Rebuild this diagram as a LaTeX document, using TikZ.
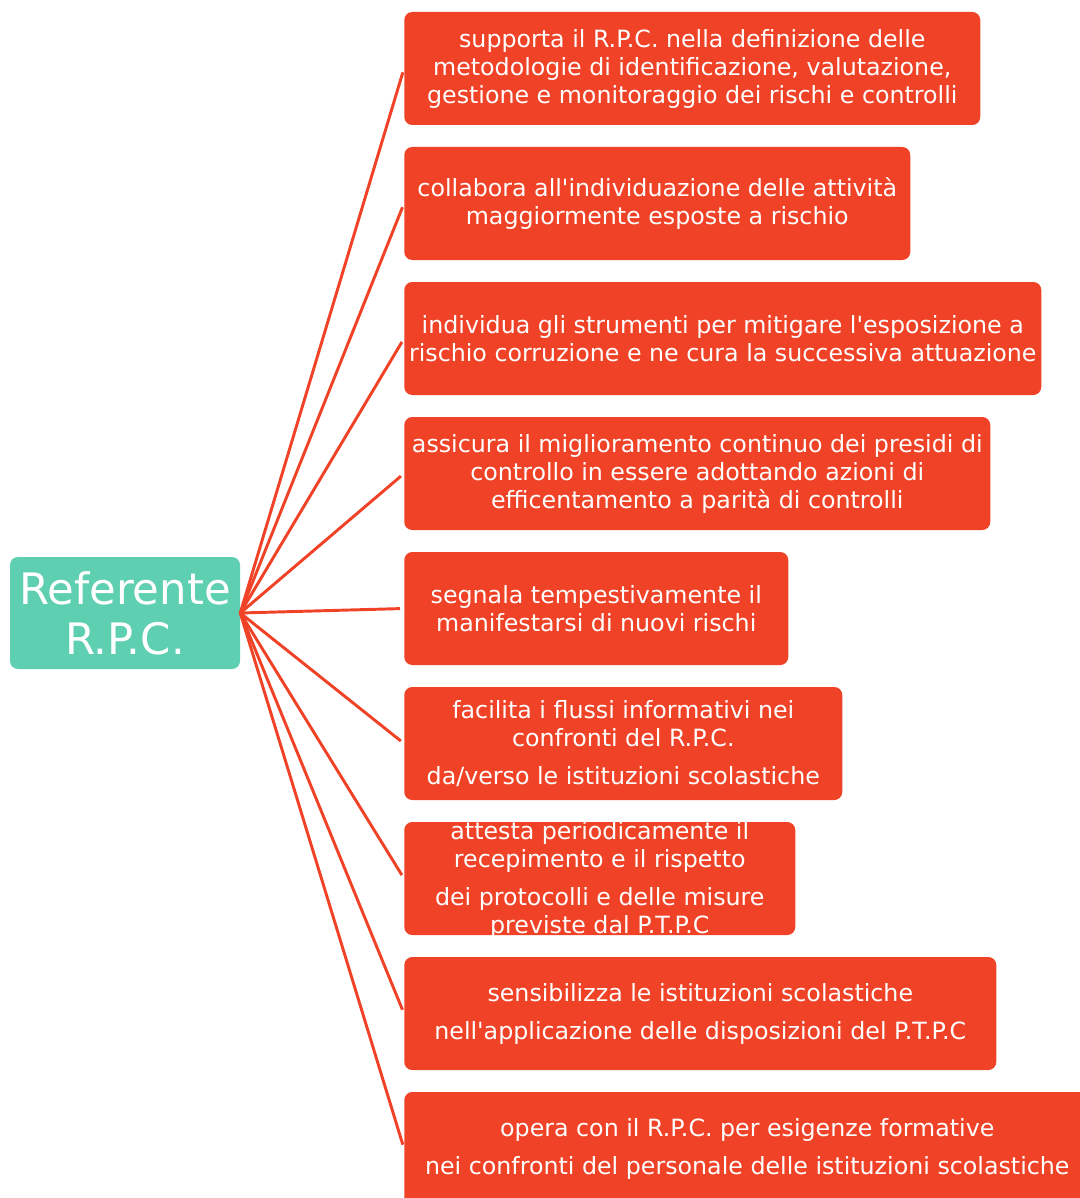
\documentclass[tikz,border=0pt]{standalone}
\usepackage{fontspec}
\setmainfont{DejaVu Sans}
\usepackage{xcolor}
\usetikzlibrary{shapes.geometric}
\definecolor{rpcred}{HTML}{F04226}
\definecolor{rpcteal}{HTML}{5ECFB0}
\tikzstyle{root} = [rectangle, rounded corners=6pt, minimum width=172.5pt, minimum height=84pt, inner sep=0pt, fill=rpcteal, text=white, align=center, font=\fontsize{32.5}{37.5}\selectfont]
\tikzstyle{task} = [rectangle, rounded corners=6pt, minimum height=84.75pt, inner sep=1pt, anchor=west, fill=rpcred, text=white, align=center, font=\fontsize{17.8}{21}\selectfont]
\tikzstyle{link} = [draw=rpcred, line width=2.2pt, shorten >=3pt]

\begin{document}
\begin{tikzpicture}[x=0.75pt, y=-0.75pt]
        \useasboundingbox (0,0) rectangle (1080,1198);

        \node (referente) [root] at (125,613) {Referente\\R.P.C.};

        \node (supporta) [task, minimum width=432pt] at (404,68.5)
        {supporta il R.P.C. nella definizione delle\\ metodologie di identificazione, valutazione,\\ gestione e monitoraggio dei rischi e controlli};
        \node (collabora) [task, minimum width=379.5pt] at (404,203.5)
        {collabora all\textquotesingle individuazione delle attività\\ maggiormente esposte a rischio};
        \node (individua) [task, minimum width=477.75pt] at (404,338.5)
        {individua gli strumenti per mitigare l\textquotesingle esposizione a\\ rischio corruzione e ne cura la successiva attuazione};
        \node (assicura) [task, minimum width=439.5pt] at (404,473.5)
        {assicura il miglioramento continuo dei presidi di\\ controllo in essere adottando azioni di\\ efficentamento a parità di controlli};
        \node (segnala) [task, minimum width=288pt] at (404,608.5)
        {segnala tempestivamente il\\ manifestarsi di nuovi rischi};
        \node (facilita) [task, minimum width=328.5pt] at (404,743.5)
        {facilita i flussi informativi nei\\ confronti del R.P.C.\\[7.5pt] da/verso le istituzioni scolastiche};
        \node (attesta) [task, minimum width=293.25pt] at (404,878.5)
        {\parbox[c][0pt][c]{290pt}{\centering\vspace*{6pt}attesta periodicamente il\\ recepimento e il rispetto\\[7.5pt] dei protocolli e delle misure\\ previste dal P.T.P.C}};
        \node (sensibilizza) [task, minimum width=444pt] at (404,1013.5)
        {sensibilizza le istituzioni scolastiche\\[7.5pt] nell\textquotesingle applicazione delle disposizioni del P.T.P.C};
        \node (opera) [task, minimum width=514.5pt] at (404,1148.5)
        {opera con il R.P.C. per esigenze formative\\[7.5pt] nei confronti del personale delle istituzioni scolastiche};

        \draw [link] (referente.east) -- (supporta.west);
        \draw [link] (referente.east) -- (collabora.west);
        \draw [link] (referente.east) -- (individua.west);
        \draw [link] (referente.east) -- (assicura.west);
        \draw [link] (referente.east) -- (segnala.west);
        \draw [link] (referente.east) -- (facilita.west);
        \draw [link] (referente.east) -- (attesta.west);
        \draw [link] (referente.east) -- (sensibilizza.west);
        \draw [link] (referente.east) -- (opera.west);

    \end{tikzpicture}
\end{document}
